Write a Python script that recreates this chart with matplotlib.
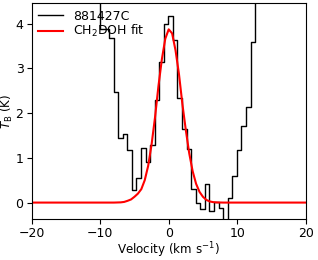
import numpy as np
import matplotlib
matplotlib.use('Agg')
import matplotlib.pyplot as plt

# observed spectrum, channel centres (km/s) and brightness (K)
vel = [-10.40, -9.73, -9.06, -8.39, -7.73, -7.06, -6.39, -5.72, -5.06, -4.39,
       -3.72, -3.05, -2.39, -1.72, -1.05, -0.38, 0.28, 0.95, 1.62, 2.29,
       2.95, 3.62, 4.29, 4.96, 5.62, 6.29, 6.96, 7.62, 8.29, 8.96,
       9.63, 10.29, 10.96, 11.63, 12.30, 12.96]
tb = [5.5, 3.88, 3.88, 3.68, 2.47, 1.44, 1.53, 1.17, 0.29, 0.55,
      1.22, 0.91, 1.28, 2.29, 3.14, 3.99, 4.17, 3.63, 2.34, 1.65,
      1.19, 0.31, -0.01, -0.15, 0.42, -0.18, 0.02, -0.13, -0.6, 0.1,
      0.6, 1.18, 1.70, 2.14, 3.58, 5.5]

# CH2DOH fit curve
fit_v = [-20, -8, -7, -6.5, -6, -5.5, -5, -4.5, -4, -3.5, -3, -2.5, -2, -1.5,
         -1, -0.5, 0, 0.5, 1, 1.5, 2, 2.5, 3, 3.5, 4, 4.5, 5, 5.5, 6, 6.5,
         7, 8, 20]
fit_t = [0, 0, 0.005, 0.015, 0.04, 0.07, 0.13, 0.2, 0.3, 0.5, 0.82, 1.3, 1.9,
         2.6, 3.2, 3.66, 3.87, 3.78, 3.4, 2.87, 2.2, 1.62, 1.1, 0.7, 0.42,
         0.24, 0.13, 0.06, 0.025, 0.01, 0.004, 0, 0]

fig = plt.figure(figsize=(3.18, 2.6), dpi=100)
ax = fig.add_axes([0.1, 0.158, 0.861, 0.829])
ax.step(vel, tb, where='mid', color='black', lw=1.0, label='881427C')
ax.plot(fit_v, fit_t, color='red', lw=1.5, label='CH$_2$DOH fit')
ax.set_xlim(-20, 20)
ax.set_ylim(-0.365, 4.45)
ax.set_xticks([-20, -10, 0, 10, 20])
ax.set_yticks([0, 1, 2, 3, 4])
ax.tick_params(labelsize=9.0, pad=2.5)
ax.set_xlabel('Velocity (km s$^{-1}$)', fontsize=8.6)
ax.set_ylabel('$T_{\\rm B}$ (K)', fontsize=8.6)
ax.xaxis.set_label_coords(0.5, -0.098)
ax.yaxis.set_label_coords(-0.06, 0.5)
ax.legend(loc='upper left', frameon=False, fontsize=9.0,
          borderaxespad=0.1, handlelength=2.0, labelspacing=0.05,
          handletextpad=0.8)
fig.savefig('out.png', dpi=100)
